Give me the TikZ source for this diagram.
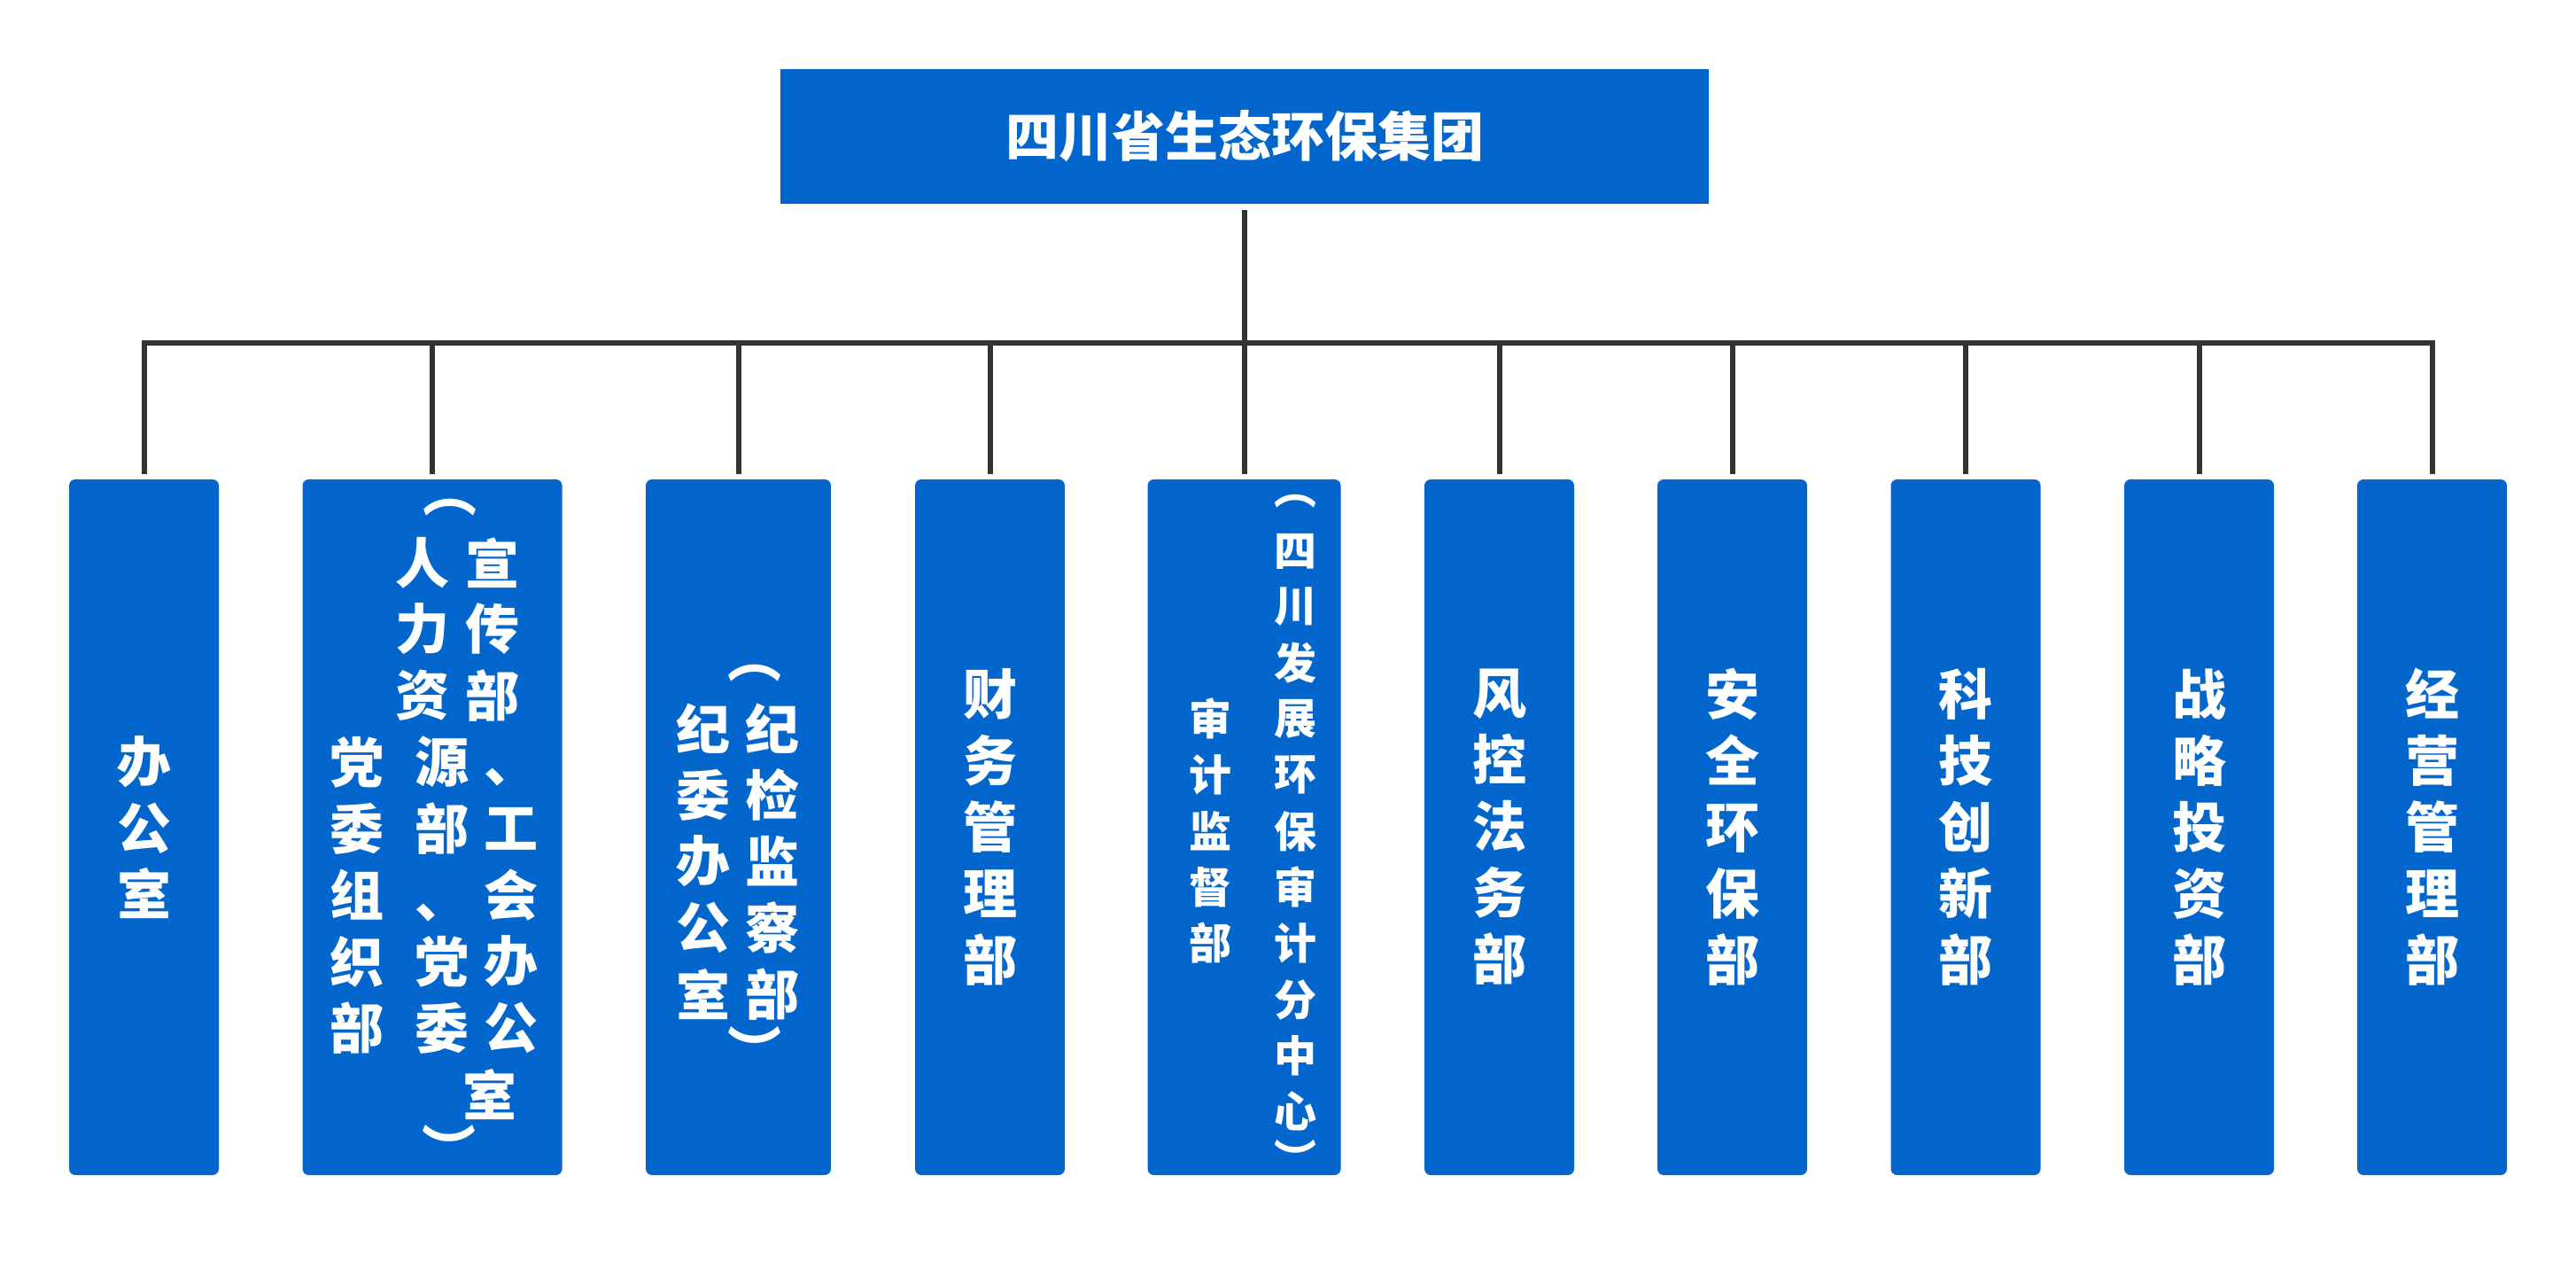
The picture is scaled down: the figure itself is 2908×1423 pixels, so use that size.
\documentclass[tikz,border=0pt]{standalone}
\usepackage{fontspec}
\newfontfamily\cjk{Noto Sans CJK SC}
\definecolor{boxblue}{RGB}{3,102,204}
\definecolor{linegray}{RGB}{51,51,51}
\tikzset{
  dept/.style={fill=boxblue, rounded corners=7pt, inner sep=0pt, text=white,
    font=\cjk\bfseries\fontsize{61}{75}\selectfont, align=center,
    minimum height=785pt},
  single/.style={dept, minimum width=169pt},
  conn/.style={draw=linegray, line width=6pt, line join=miter},
  ch/.style={inner sep=0pt, text=white, font=\cjk\bfseries\fontsize{61}{75}\selectfont},
  chs/.style={inner sep=0pt, text=white, font=\cjk\bfseries\fontsize{48}{60}\selectfont},
}
\begin{document}
\begin{tikzpicture}[x=1pt,y=-1pt]
\fill[white] (0,0) rectangle (2908,1423);
\useasboundingbox (0,0) rectangle (2908,1423);

\node[fill=boxblue, inner sep=0pt, text=white, minimum width=1048pt, minimum height=152pt,
  font=\cjk\bfseries\fontsize{60}{70}\selectfont] (top) at (1405,154) {四川省生态环保集团};

\node[single] (b1) at (162.5,933.5) {办\\公\\室};
\node[dept, minimum width=293pt] (b2) at (488,933.5) {};
\node[dept, minimum width=209pt] (b3) at (833.5,933.5) {};
\node[single] (b4) at (1117.5,933.5) {财\\务\\管\\理\\部};
\node[dept, minimum width=218pt] (b5) at (1404.5,933.5) {};
\node[single] (b6) at (1692.5,933.5) {风\\控\\法\\务\\部};
\node[single] (b7) at (1955.5,933.5) {安\\全\\环\\保\\部};
\node[single] (b8) at (2219,933.5) {科\\技\\创\\新\\部};
\node[single] (b9) at (2482.5,933.5) {战\\略\\投\\资\\部};
\node[single] (b10) at (2745.5,933.5) {经\\营\\管\\理\\部};

% box 2 text
\foreach \t/\x/\y [count=\i] in {︵/508/573, 人/477/635, 力/477/710, 资/477/785, 源/499/860,
  部/499/935, 、/499/1030, 党/499/1085, 委/499/1160, 宣/556/635, 传/556/710, 部/556/785,
  、/577/877, 工/577/935, 会/577/1010, 办/577/1085, 公/577/1160, 室/553/1235, ︶/507/1295,
  党/403/860, 委/403/935, 组/403/1010, 织/403/1085, 部/403/1160}
  \node[ch] (b2t\i) at (\x,\y) {\t};

% box 3 text
\foreach \t/\x/\y [count=\i] in {︵/852/760, 纪/872/822, 检/872/897, 监/872/972, 察/872/1047,
  部/872/1122, ︶/852/1184, 纪/794/822, 委/794/897, 办/794/972, 公/794/1047, 室/794/1122}
  \node[ch] (b3t\i) at (\x,\y) {\t};

% box 5 text
\foreach \t/\x/\y [count=\i] in {︵/1462/566, 四/1462/622, 川/1462/685, 发/1462/748, 展/1462/811,
  环/1462/874, 保/1462/938, 审/1462/1001, 计/1462/1064, 分/1462/1128, 中/1462/1191, 心/1462/1254,
  ︶/1462/1306, 审/1366/811, 计/1366/874, 监/1366/938, 督/1366/1001, 部/1366/1064}
  \node[chs] (b5t\i) at (\x,\y) {\t};

\coordinate (bus) at (1405,387);
\draw[conn, shorten <=7pt] (top) -- (top |- bus);
\draw[conn, shorten <=6pt, shorten >=6pt] (b1) -- (b1 |- bus) -- (b10 |- bus) -- (b10);
\foreach \b in {b2,b3,b4,b5,b6,b7,b8,b9}
  \draw[conn, shorten >=6pt] (\b |- bus) -- (\b);
\end{tikzpicture}
\end{document}
